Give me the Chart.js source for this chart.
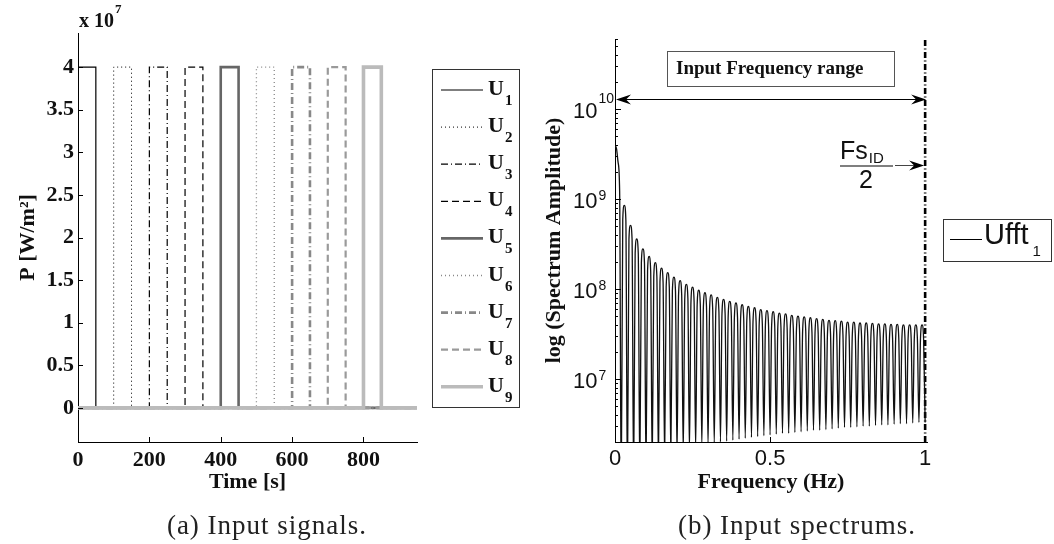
<!DOCTYPE html>
<html><head><meta charset="utf-8">
<script src="https://cdn.jsdelivr.net/npm/chart.js@4.4.0/dist/chart.umd.min.js"></script>
<style>
html,body{margin:0;padding:0;background:#fff;}
body{width:1054px;height:544px;position:relative;overflow:hidden;}
.pane{position:absolute;top:0;width:527px;height:544px;}
.cap{position:absolute;top:509px;height:32px;line-height:32px;font-family:'Liberation Serif',serif;font-size:27px;letter-spacing:1px;color:#222;text-align:center;white-space:nowrap;}
</style></head><body>
<div class="pane" style="left:0"><canvas id="c1"></canvas></div>
<div class="pane" style="left:527px"><canvas id="c2"></canvas></div>
<div class="cap" style="left:117px;width:300px">(a) Input signals.</div>
<div class="cap" style="left:647px;width:300px">(b) Input spectrums.</div>
<script>
// ---------- data: (a) input signals ----------
const signalLabels = ['U1','U2','U3','U4','U5','U6','U7','U8','U9'];
const pulseStart = [0, 100, 200, 300, 400, 500, 600, 700, 800];
const pulseEnd   = [50, 150, 250, 350, 450, 550, 650, 750, 850];
const pulseLevel = [4e7, 4e7, 4e7, 4e7, 4e7, 4e7, 4e7, 4e7, 4e7];
const timeEnd = 950;
const timeTicks = [0, 200, 400, 600, 800];
const powerTicks = [0, 0.5e7, 1e7, 1.5e7, 2e7, 2.5e7, 3e7, 3.5e7, 4e7];
const powerExponent = 7;

// ---------- data: (b) input spectrum (shoulder, peak, shoulder, null per lobe) ----------
const specFreq = [
  0.000,0.005,0.010,0.015,0.020,
  0.025,0.030,0.035,0.040, 0.045,0.050,0.055,0.060, 0.065,0.070,0.075,0.080, 0.085,0.090,0.095,0.100,
  0.105,0.110,0.115,0.120, 0.125,0.130,0.135,0.140, 0.145,0.150,0.155,0.160, 0.165,0.170,0.175,0.180,
  0.185,0.190,0.195,0.200, 0.205,0.210,0.215,0.220, 0.225,0.230,0.235,0.240, 0.245,0.250,0.255,0.260,
  0.265,0.270,0.275,0.280, 0.285,0.290,0.295,0.300, 0.305,0.310,0.315,0.320, 0.325,0.330,0.335,0.340,
  0.345,0.350,0.355,0.360, 0.365,0.370,0.375,0.380, 0.385,0.390,0.395,0.400, 0.405,0.410,0.415,0.420,
  0.425,0.430,0.435,0.440, 0.445,0.450,0.455,0.460, 0.465,0.470,0.475,0.480, 0.485,0.490,0.495,0.500,
  0.505,0.510,0.515,0.520, 0.525,0.530,0.535,0.540, 0.545,0.550,0.555,0.560, 0.565,0.570,0.575,0.580,
  0.585,0.590,0.595,0.600, 0.605,0.610,0.615,0.620, 0.625,0.630,0.635,0.640, 0.645,0.650,0.655,0.660,
  0.665,0.670,0.675,0.680, 0.685,0.690,0.695,0.700, 0.705,0.710,0.715,0.720, 0.725,0.730,0.735,0.740,
  0.745,0.750,0.755,0.760, 0.765,0.770,0.775,0.780, 0.785,0.790,0.795,0.800, 0.805,0.810,0.815,0.820,
  0.825,0.830,0.835,0.840, 0.845,0.850,0.855,0.860, 0.865,0.870,0.875,0.880, 0.885,0.890,0.895,0.900,
  0.905,0.910,0.915,0.920, 0.925,0.930,0.935,0.940, 0.945,0.950,0.955,0.960, 0.965,0.970,0.975,0.980,
  0.985,0.990,0.995,1.000];
const specAmp = [
  4.0e9,3.6e9,2.55e9,1.2e9,5e5,
  5.9e8,8.5e8,5.9e8,6e5, 3.6e8,5.1e8,3.6e8,7e5, 2.5e8,3.6e8,2.5e8,8e5, 1.95e8,2.8e8,1.95e8,9e5,
  1.6e8,2.3e8,1.6e8,1.0e6, 1.38e8,1.97e8,1.38e8,1.1e6, 1.2e8,1.71e8,1.2e8,1.2e6, 1.06e8,1.52e8,1.06e8,1.3e6,
  9.5e7,1.36e8,9.5e7,1.4e6, 8.7e7,1.24e8,8.7e7,1.5e6, 7.9e7,1.13e8,7.9e7,1.6e6, 7.35e7,1.05e8,7.35e7,1.7e6,
  6.8e7,9.7e7,6.8e7,1.8e6, 6.4e7,9.1e7,6.4e7,1.85e6, 6.0e7,8.6e7,6.0e7,1.9e6, 5.7e7,8.1e7,5.7e7,2.0e6,
  5.4e7,7.7e7,5.4e7,2.05e6, 5.1e7,7.3e7,5.1e7,2.1e6, 4.9e7,7.0e7,4.9e7,2.15e6, 4.7e7,6.7e7,4.7e7,2.2e6,
  4.5e7,6.4e7,4.5e7,2.25e6, 4.35e7,6.2e7,4.35e7,2.3e6, 4.15e7,5.9e7,4.15e7,2.35e6, 4.0e7,5.75e7,4.0e7,2.4e6,
  3.9e7,5.6e7,3.9e7,2.45e6, 3.8e7,5.4e7,3.8e7,2.5e6, 3.7e7,5.3e7,3.7e7,2.5e6, 3.6e7,5.1e7,3.6e7,2.55e6,
  3.5e7,5.0e7,3.5e7,2.6e6, 3.45e7,4.9e7,3.45e7,2.65e6, 3.35e7,4.8e7,3.35e7,2.7e6, 3.3e7,4.7e7,3.3e7,2.7e6,
  3.2e7,4.6e7,3.2e7,2.75e6, 3.15e7,4.5e7,3.15e7,2.8e6, 3.1e7,4.45e7,3.1e7,2.85e6, 3.1e7,4.4e7,3.1e7,2.9e6,
  3.0e7,4.3e7,3.0e7,2.9e6, 3.0e7,4.3e7,3.0e7,2.95e6, 2.95e7,4.2e7,2.95e7,3.0e6, 2.95e7,4.2e7,2.95e7,3.0e6,
  2.9e7,4.15e7,2.9e7,3.05e6, 2.9e7,4.1e7,2.9e7,3.1e6, 2.85e7,4.1e7,2.85e7,3.1e6, 2.85e7,4.05e7,2.85e7,3.15e6,
  2.85e7,4.05e7,2.85e7,3.2e6, 2.8e7,4.0e7,2.8e7,3.2e6, 2.8e7,4.0e7,2.8e7,3.25e6, 2.8e7,4.0e7,2.8e7,3.3e6,
  2.8e7,4.0e7,2.8e7,3.3e6];
const freqTicks = [0, 0.5, 1];
const decadeTicks = [1e7, 1e8, 1e9, 1e10];
const nyquistFreq = 1;
const rangeArrowLevel = 1.3e10;
const specLabel = 'Ufft1';

// ---------- styles ----------
const serifBold = {family:'Liberation Serif', weight:'bold', size:22};
const sigStyles = [
  {c:'#000', w:1.2, d:[]},
  {c:'#000', w:1.0, d:[1,3]},
  {c:'#000', w:1.2, d:[7,3,1,3]},
  {c:'#000', w:1.2, d:[7,4]},
  {c:'#666', w:2.6, d:[]},
  {c:'#888', w:1.3, d:[1,3]},
  {c:'#888', w:2.6, d:[7,3,1,3]},
  {c:'#9a9a9a', w:2.2, d:[7,4]},
  {c:'#bbb', w:3.6, d:[]}
];

const sigDatasets = signalLabels.map((lab, i) => ({
  label: lab,
  data: [{x:0,y:0},{x:pulseStart[i],y:0},{x:pulseStart[i],y:pulseLevel[i]},{x:pulseEnd[i],y:pulseLevel[i]},{x:pulseEnd[i],y:0},{x:timeEnd,y:0}],
  borderColor: sigStyles[i].c, borderWidth: sigStyles[i].w, borderDash: sigStyles[i].d,
  pointRadius: 0, tension: 0, fill: false, order: signalLabels.length - i
}));

const leftDeco = {
  id: 'leftDeco',
  afterDraw(chart) {
    const {ctx, chartArea: a, scales: {x, y}} = chart;
    ctx.save();
    ctx.strokeStyle = '#000'; ctx.lineWidth = 1; ctx.setLineDash([]);
    timeTicks.forEach(v => { const px = Math.round(x.getPixelForValue(v)) + 0.5; ctx.beginPath(); ctx.moveTo(px, a.bottom); ctx.lineTo(px, a.bottom - 5); ctx.stroke(); });
    powerTicks.forEach(v => { const py = Math.round(y.getPixelForValue(v)) + 0.5; ctx.beginPath(); ctx.moveTo(a.left, py); ctx.lineTo(a.left + 5, py); ctx.stroke(); });
    // multiplier
    ctx.fillStyle = '#111'; ctx.textAlign = 'left'; ctx.textBaseline = 'alphabetic';
    ctx.font = 'bold 20px "Liberation Serif"';
    ctx.fillText('x 10', a.left + 1, 27);
    const w = ctx.measureText('x 10').width;
    ctx.font = 'bold 13px "Liberation Serif"';
    ctx.fillText(String(powerExponent), a.left + 2 + w, 13);
    // legend
    const bx = a.right + 15, by = 69, bw = 87, bh = 338;
    ctx.fillStyle = '#fff'; ctx.fillRect(bx, by, bw, bh);
    ctx.strokeStyle = '#333'; ctx.lineWidth = 1;
    ctx.strokeRect(bx + 0.5, by + 0.5, bw, bh);
    chart.data.datasets.forEach((ds, i) => {
      const ly = 90 + i * 37.1;
      ctx.strokeStyle = ds.borderColor; ctx.lineWidth = ds.borderWidth; ctx.setLineDash(ds.borderDash);
      ctx.beginPath(); ctx.moveTo(bx + 9, ly); ctx.lineTo(bx + 51, ly); ctx.stroke();
      ctx.setLineDash([]);
      ctx.fillStyle = '#111';
      ctx.font = 'bold 22px "Liberation Serif"';
      ctx.fillText(ds.label.charAt(0), bx + 56, ly + 5);
      const uw = ctx.measureText(ds.label.charAt(0)).width;
      ctx.font = 'bold 15px "Liberation Serif"';
      ctx.fillText(ds.label.slice(1), bx + 57 + uw, ly + 15);
    });
    ctx.restore();
  }
};

new Chart(document.getElementById('c1'), {
  type: 'line',
  data: {datasets: sigDatasets},
  options: {
    responsive: true, maintainAspectRatio: false, animation: false, devicePixelRatio: 1,
    layout: {padding: {top: 33, right: 110, left: 0, bottom: 0}},
    plugins: {legend: {display: false}, tooltip: {enabled: false}},
    scales: {
      x: {
        type: 'linear', min: 0, max: timeEnd, position: 'bottom',
        afterFit: s => { s.height = 102; },
        afterBuildTicks: s => { s.ticks = timeTicks.map(v => ({value: v})); },
        grid: {display: false, drawTicks: false},
        border: {display: true, color: '#000', width: 1},
        ticks: {font: serifBold, color: '#111', padding: 5, maxRotation: 0},
        title: {display: true, text: 'Time [s]', font: serifBold, color: '#111', padding: {top: 0, bottom: 48}}
      },
      y: {
        type: 'linear', min: -0.4e7, max: 4.4e7,
        afterFit: s => { s.width = 78; },
        afterBuildTicks: s => { s.ticks = powerTicks.map(v => ({value: v})); },
        grid: {display: false, drawTicks: false},
        border: {display: true, color: '#000', width: 1},
        ticks: {font: serifBold, color: '#111', padding: 4, callback: v => String(v / Math.pow(10, powerExponent))},
        title: {display: true, text: 'P [W/m²]', font: serifBold, color: '#111', padding: {top: 15, bottom: 0}}
      }
    }
  },
  plugins: [leftDeco]
});

// ---------- (b) ----------
function arrowHead(ctx, tx, ty, dir) {
  ctx.beginPath();
  ctx.moveTo(tx, ty);
  ctx.lineTo(tx - dir * 15, ty - 5);
  ctx.lineTo(tx - dir * 10, ty);
  ctx.lineTo(tx - dir * 15, ty + 5);
  ctx.closePath(); ctx.fill();
}

const rightDeco = {
  id: 'rightDeco',
  afterDraw(chart) {
    const {ctx, chartArea: a, scales: {x, y}} = chart;
    ctx.save();
    ctx.strokeStyle = '#000'; ctx.lineWidth = 1; ctx.setLineDash([]);
    for (let d = 6; d <= 10; d++) for (let m = 1; m <= 9; m++) {
      const v = m * Math.pow(10, d);
      if (v < y.min || v > y.max) continue;
      const py = Math.round(y.getPixelForValue(v)) + 0.5;
      ctx.beginPath(); ctx.moveTo(a.left, py); ctx.lineTo(a.left + (m === 1 ? 6 : 3), py); ctx.stroke();
    }
    freqTicks.forEach(v => { const px = Math.round(x.getPixelForValue(v)) + 0.5; ctx.beginPath(); ctx.moveTo(px, a.bottom); ctx.lineTo(px, a.bottom - 5); ctx.stroke(); });
    // log tick labels
    ctx.fillStyle = '#111'; ctx.textAlign = 'left'; ctx.textBaseline = 'middle';
    decadeTicks.forEach(v => {
      const py = y.getPixelForValue(v);
      const e = String(Math.round(Math.log10(v)));
      ctx.font = '22px "Liberation Sans"';
      ctx.fillText('10', 46, py + 3);
      const w = ctx.measureText('10').width;
      ctx.font = '14px "Liberation Sans"';
      ctx.fillText(e, 47 + w, e.length > 1 ? py - 10 : py - 3);
    });
    // input frequency range arrow
    const ay = Math.round(y.getPixelForValue(rangeArrowLevel)) + 0.5;
    const x0 = x.getPixelForValue(0), x1 = x.getPixelForValue(nyquistFreq);
    ctx.fillStyle = '#000';
    ctx.beginPath(); ctx.moveTo(x0 + 8, ay); ctx.lineTo(x1 - 8, ay); ctx.stroke();
    arrowHead(ctx, x0 + 1, ay, -1);
    arrowHead(ctx, x1 + 1, ay, 1);
    // text box
    ctx.fillStyle = '#fff'; ctx.fillRect(140, 51, 227, 35);
    ctx.strokeStyle = '#555'; ctx.strokeRect(140.5, 51.5, 227, 35);
    ctx.fillStyle = '#111'; ctx.textBaseline = 'middle';
    ctx.font = 'bold 19px "Liberation Serif"';
    ctx.fillText('Input Frequency range', 149, 69);
    // Fs_ID / 2
    ctx.textBaseline = 'alphabetic';
    ctx.font = '25px "Liberation Sans"';
    ctx.fillText('Fs', 313, 159);
    const fw = ctx.measureText('Fs').width;
    ctx.font = '15px "Liberation Sans"';
    ctx.fillText('ID', 313 + fw + 1, 163);
    ctx.strokeStyle = '#000'; ctx.lineWidth = 1.2;
    ctx.beginPath(); ctx.moveTo(313, 166); ctx.lineTo(366, 166); ctx.stroke();
    ctx.font = '25px "Liberation Sans"'; ctx.textAlign = 'center';
    ctx.fillText('2', 339, 188);
    ctx.strokeStyle = '#444'; ctx.lineWidth = 1;
    ctx.beginPath(); ctx.moveTo(368, 165.5); ctx.lineTo(x1 - 8, 165.5); ctx.stroke();
    ctx.fillStyle = '#000';
    arrowHead(ctx, x1 - 1, 165.5, 1);
    // legend
    ctx.textAlign = 'left';
    ctx.fillStyle = '#fff'; ctx.fillRect(416, 219, 109, 42);
    ctx.strokeStyle = '#333'; ctx.lineWidth = 1; ctx.strokeRect(416.5, 219.5, 108, 42);
    ctx.strokeStyle = '#000';
    ctx.beginPath(); ctx.moveTo(423, 239.5); ctx.lineTo(455, 239.5); ctx.stroke();
    ctx.fillStyle = '#111';
    ctx.font = '29px "Liberation Sans"';
    ctx.fillText(specLabel.slice(0, 4), 457, 244);
    const lw = ctx.measureText(specLabel.slice(0, 4)).width;
    ctx.font = '15px "Liberation Sans"';
    ctx.fillText(specLabel.slice(4), 461 + lw, 256);
    ctx.restore();
  }
};

new Chart(document.getElementById('c2'), {
  type: 'line',
  data: {datasets: [
    {label: specLabel, data: specFreq.map((f, i) => ({x: f, y: specAmp[i]})),
     borderColor: '#111', borderWidth: 1.3, pointRadius: 0, cubicInterpolationMode: 'monotone', fill: false},
    {label: 'Fs/2', data: [{x: nyquistFreq, y: 2e6}, {x: nyquistFreq, y: 6e10}],
     borderColor: '#000', borderWidth: 2.6, borderDash: [6, 2.5, 1, 2.5], pointRadius: 0, fill: false}
  ]},
  options: {
    responsive: true, maintainAspectRatio: false, animation: false, devicePixelRatio: 1,
    layout: {padding: {top: 39, right: 127, left: 0, bottom: 0}},
    plugins: {legend: {display: false}, tooltip: {enabled: false}},
    scales: {
      x: {
        type: 'linear', min: 0, max: 1.006, position: 'bottom',
        afterFit: s => { s.height = 102; },
        afterBuildTicks: s => { s.ticks = freqTicks.map(v => ({value: v})); },
        grid: {display: false, drawTicks: false},
        border: {display: true, color: '#000', width: 1},
        ticks: {font: {family: 'Liberation Sans', size: 22}, color: '#111', padding: 4, maxRotation: 0, callback: v => String(v)},
        title: {display: true, text: 'Frequency (Hz)', font: serifBold, color: '#111', padding: {top: 0, bottom: 48}}
      },
      y: {
        type: 'logarithmic', min: 2e6, max: 6e10,
        afterFit: s => { s.width = 88; },
        afterBuildTicks: s => { s.ticks = decadeTicks.map(v => ({value: v})); },
        grid: {display: false, drawTicks: false},
        border: {display: true, color: '#000', width: 1},
        ticks: {display: false},
        title: {display: true, text: 'log (Spectrum Amplitude)', font: serifBold, color: '#111', padding: {top: 14, bottom: 0}}
      }
    }
  },
  plugins: [rightDeco]
});
</script>
</body></html>
